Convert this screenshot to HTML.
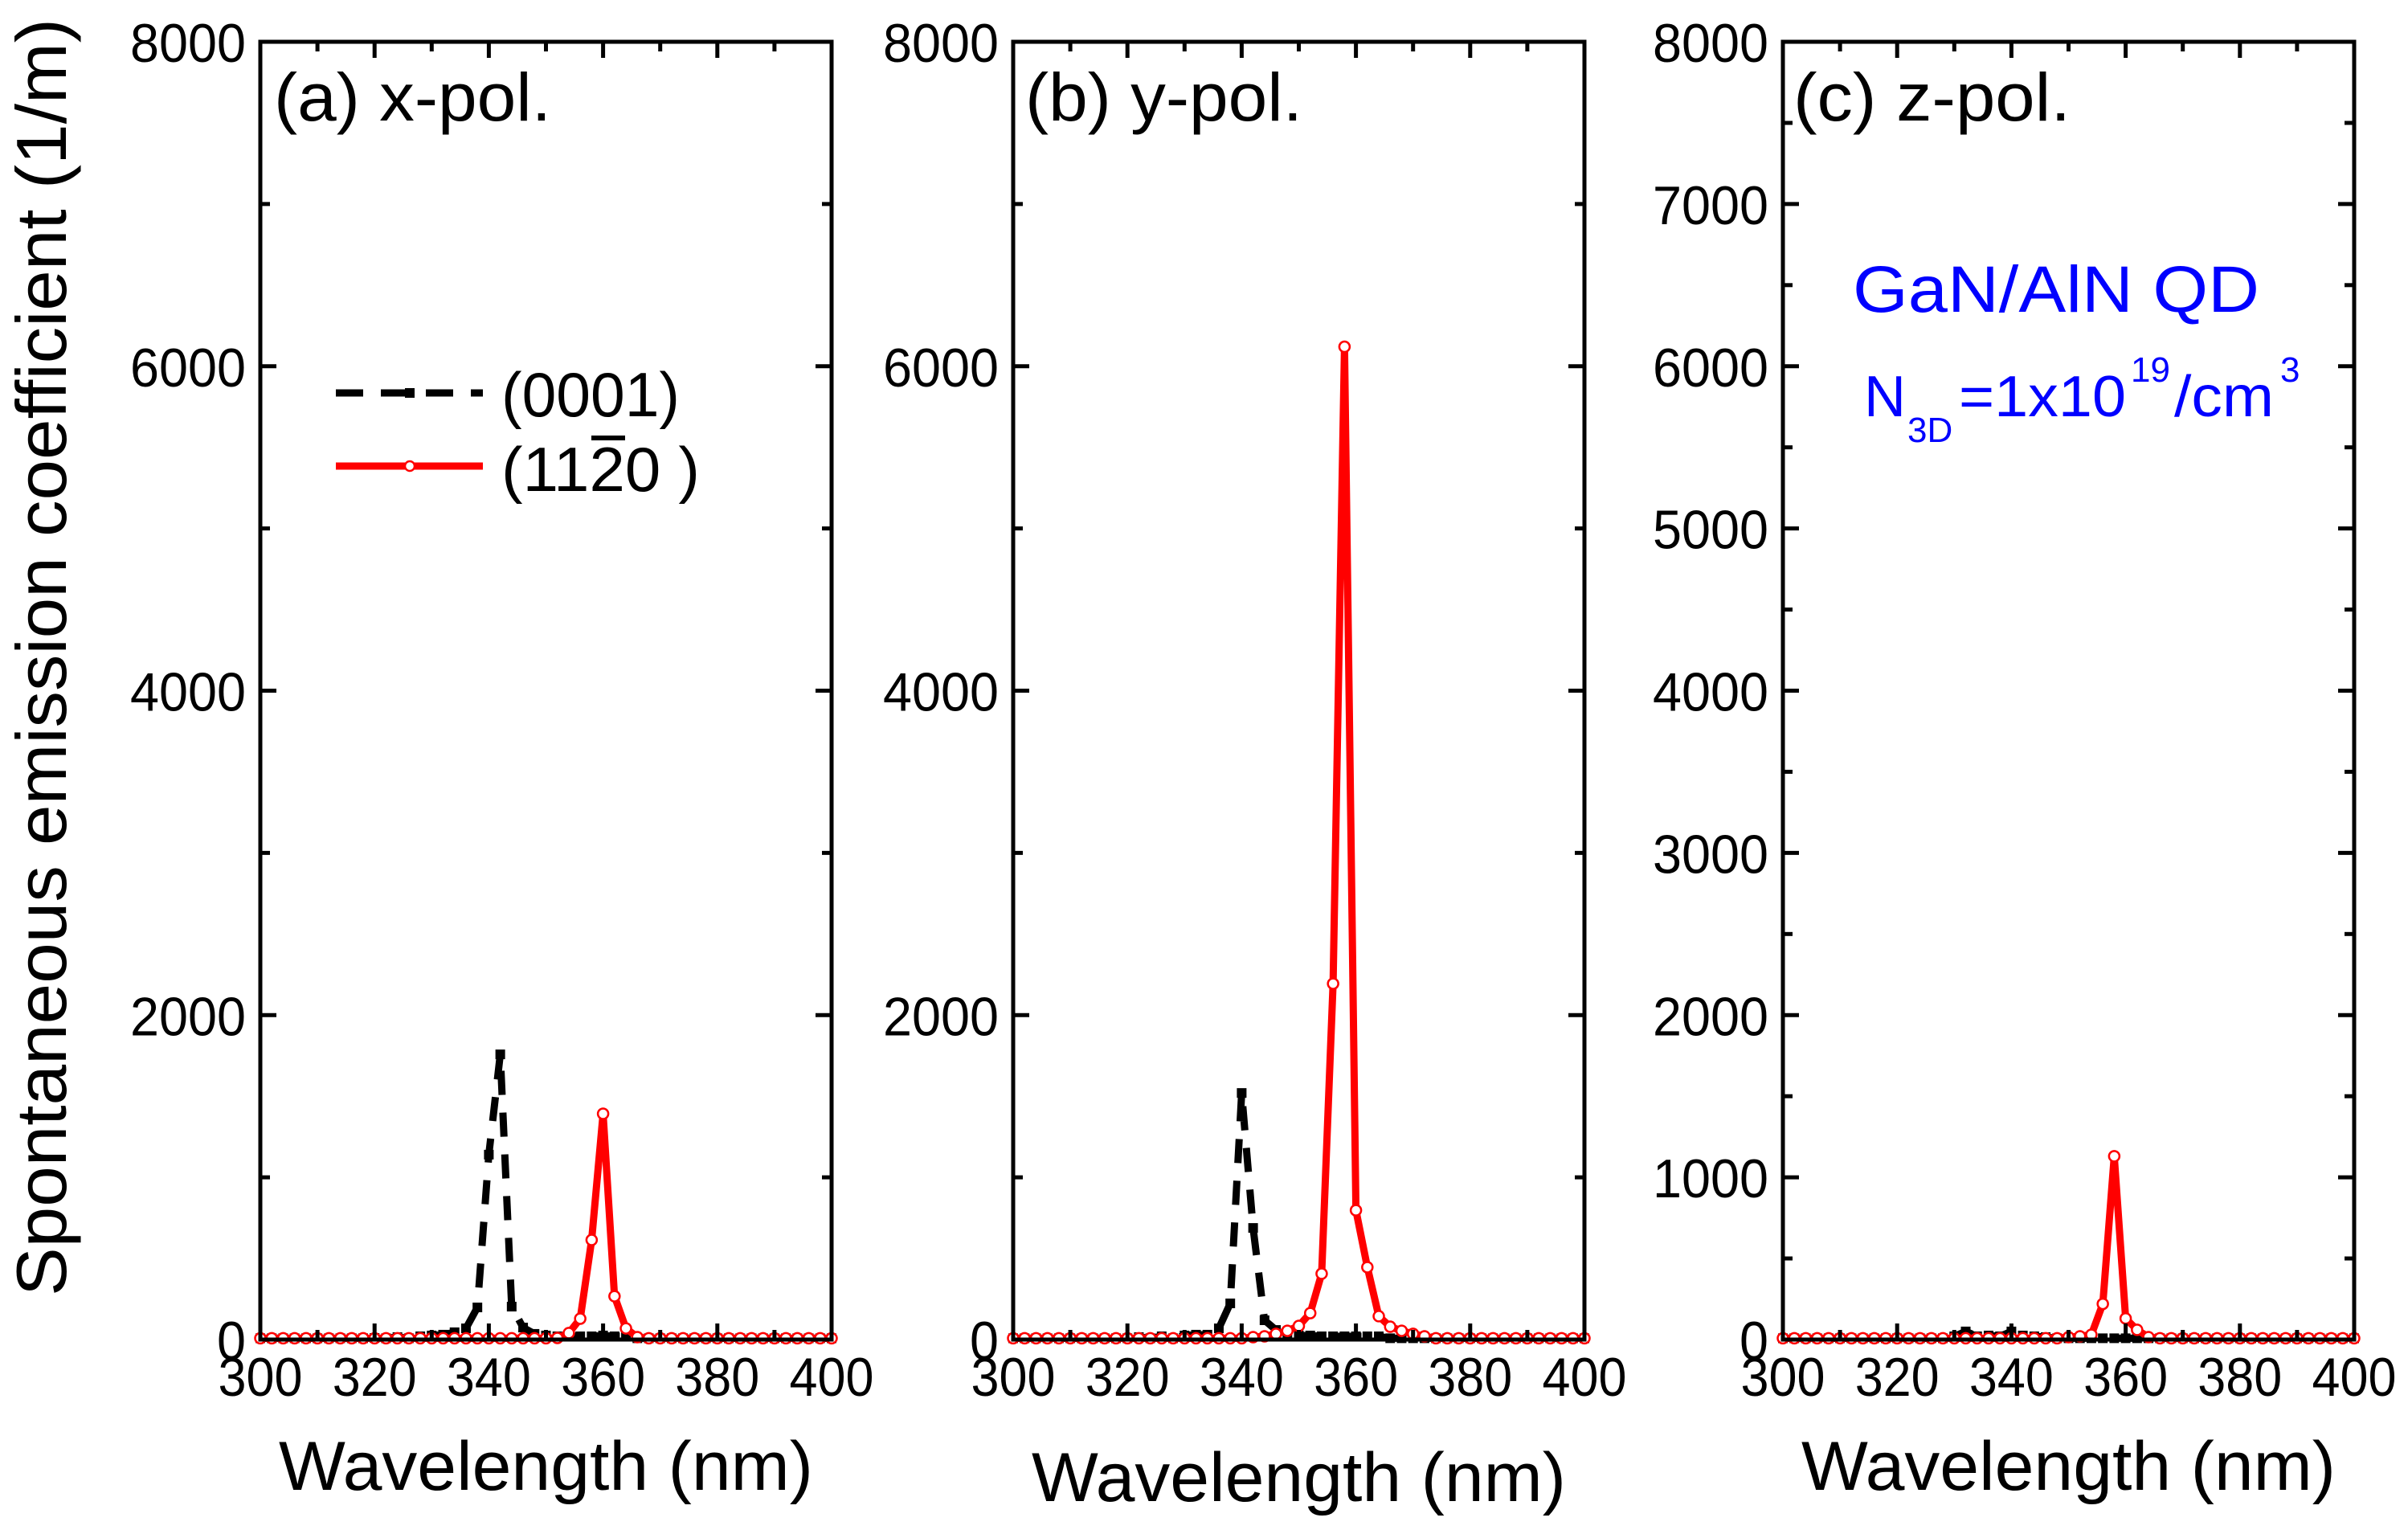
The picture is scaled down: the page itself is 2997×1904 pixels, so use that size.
<!DOCTYPE html>
<html><head><meta charset="utf-8"><style>
html,body{margin:0;padding:0;background:#fff;}
svg{display:block;font-family:"Liberation Sans",sans-serif;}
</style></head><body>
<svg id="chart" width="2997" height="1904" viewBox="0 0 2997 1904" xmlns="http://www.w3.org/2000/svg">
<rect width="2997" height="1904" fill="#fff"/>
<text x="0" y="0" font-size="88" textLength="1590" lengthAdjust="spacingAndGlyphs" text-anchor="middle" transform="translate(82,818) rotate(-90)">Spontaneous emission coefficient (1/m)</text>
<g id="panels"></g>
<text x="2306" y="388" font-size="82" fill="#0000ff" textLength="506" lengthAdjust="spacingAndGlyphs">GaN/AlN QD</text>
<g fill="#0000ff">
<text x="2320" y="518" font-size="72">N</text>
<text x="2374" y="550" font-size="44">3D</text>
<text x="2438" y="518" font-size="72" textLength="208" lengthAdjust="spacingAndGlyphs">=1x10</text>
<text x="2652" y="475" font-size="44">19</text>
<text x="2706" y="518" font-size="72" textLength="124" lengthAdjust="spacingAndGlyphs">/cm</text>
<text x="2838" y="475" font-size="44">3</text>
</g>
<g>
<line x1="418" y1="489" x2="601" y2="489" stroke="#000" stroke-width="9" stroke-dasharray="34,22"/>
<rect x="504" y="483" width="12" height="12" fill="#000"/>
<text x="624" y="518" font-size="78" textLength="222" lengthAdjust="spacingAndGlyphs">(0001)</text>
<line x1="418" y1="580" x2="601" y2="580" stroke="#ff0000" stroke-width="9"/>
<circle cx="510" cy="580" r="6" fill="#fff" stroke="#ff0000" stroke-width="2.5"/>
<text x="624" y="611" font-size="78" textLength="247" lengthAdjust="spacingAndGlyphs">(1120 )</text>
<line x1="736" y1="545" x2="778" y2="545" stroke="#000" stroke-width="6"/>
</g>
</svg>
<script>
// wavelengths shared
const wl = [];
for (let w = 300; w <= 400; w += 2) wl.push(w);
// Panel (a) x-pol
const aBlackNm = [320,324,328,330,332,334,336,338,340,342,344,346,348,350,352,354,356,358,360,362,364];
const aBlackVal = [10,15,20,25,30,45,69,198,1140,1758,203,74,35,25,20,20,20,20,25,20,20];
const aRedNm = [352,354,356,358,360,362,364,366];
const aRedVal = [10,40,129,614,1392,267,69,15];
// Panel (b) y-pol
const bBlackNm = [322,326,330,332,334,336,338,340,342,344,346,348,350,352,354,356,358,360,362,364];
const bBlackVal = [15,20,25,30,30,69,223,1520,688,119,59,30,25,25,20,20,20,20,20,20];
const bRedNm = [342,344,346,348,350,352,354,356,358,360,362,364,366,368,370,372];
const bRedVal = [15,20,35,54,84,163,406,2194,6120,797,446,144,79,54,35,20];
// Panel (c) z-pol
const cBlackNm = [330,332,334,336,338,340,342,344,346];
const cBlackVal = [20,50,20,25,20,50,25,20,15];
const cRedNm = [350,352,354,356,358,360,362,364];
const cRedVal = [15,20,30,220,1130,130,60,15];
const xTicks = [300,320,340,360,380,400];
const yTicksAB = [0,2000,4000,6000,8000];
const yTicksC = [0,1000,2000,3000,4000,5000,6000,7000,8000];

const NS = "http://www.w3.org/2000/svg";
const root = document.getElementById('panels');
function mk(tag, attrs, parent) {
  const e = document.createElementNS(NS, tag);
  for (const k in attrs) e.setAttribute(k, attrs[k]);
  parent.appendChild(e);
  return e;
}
function fill(nm, val) {
  const m = {};
  nm.forEach((n, i) => m[n] = val[i]);
  return wl.map(w => (m[w] !== undefined ? m[w] : 8));
}
const panels = [
  {id:'a', x0:324, title:'(a) x-pol.', tx:341, yt:yTicksAB, minor:1000, xt:1854,
   b:fill(aBlackNm,aBlackVal), r:fill(aRedNm,aRedVal)},
  {id:'b', x0:1261, title:'(b) y-pol.', tx:1276, yt:yTicksAB, minor:1000, xt:1868,
   b:fill(bBlackNm,bBlackVal), r:fill(bRedNm,bRedVal)},
  {id:'c', x0:2219, title:'(c) z-pol.', tx:2232, yt:yTicksC, minor:500, xt:1854,
   b:fill(cBlackNm,cBlackVal), r:fill(cRedNm,cRedVal)}
];
const W = 711, yTop = 52, yBot = 1667;
panels.forEach(p => {
  const g = mk('g', {}, root);
  
  
  const xs = v => p.x0 + (v - 300) / 100 * W;
  const ys = v => yBot - v / 8000 * (yBot - yTop);
  const bpts = wl.map((w, i) => xs(w) + ',' + ys(p.b[i])).join(' ');
  const bl = mk('polyline', {points:bpts, fill:'none', stroke:'#000', 'stroke-width':9, 'stroke-dasharray':'30,22', 'stroke-linejoin':'round'}, g);
  
  
  wl.forEach((w, i) => {
    const s = mk('rect', {x:xs(w)-6, y:ys(p.b[i])-6, width:12, height:12, fill:'#000'}, g);
    
    
  });
  const rpts = wl.map((w, i) => xs(w) + ',' + ys(p.r[i])).join(' ');
  const rl = mk('polyline', {points:rpts, fill:'none', stroke:'#ff0000', 'stroke-width':9, 'stroke-linejoin':'round'}, g);
  
  
  wl.forEach((w, i) => {
    const c = mk('circle', {cx:xs(w), cy:ys(p.r[i]), r:6.5, fill:'#fff', stroke:'#ff0000', 'stroke-width':2.5}, g);
    
    
  });
  const fr = mk('rect', {x:p.x0, y:yTop, width:W, height:yBot-yTop, fill:'none', stroke:'#000', 'stroke-width':5}, g);
  
  
  for (let v = 300; v <= 400; v += 10) {
    const L = (v % 20 === 0) ? 20 : 12;
    mk('line', {x1:xs(v), y1:yBot, x2:xs(v), y2:yBot-L, stroke:'#000', 'stroke-width':5}, g);
    mk('line', {x1:xs(v), y1:yTop, x2:xs(v), y2:yTop+L, stroke:'#000', 'stroke-width':5}, g);
  }
  xTicks.forEach(v => {
    const t = mk('text', {x:xs(v), y:1737, 'font-size':68, 'text-anchor':'middle', textLength:105, lengthAdjust:'spacingAndGlyphs'}, g);
    t.textContent = v;
    
    
  });
  const major = p.yt[1] - p.yt[0];
  for (let v = 0; v <= 8000; v += p.minor) {
    const L = (v % major === 0) ? 20 : 12;
    mk('line', {x1:p.x0, y1:ys(v), x2:p.x0+L, y2:ys(v), stroke:'#000', 'stroke-width':5}, g);
    mk('line', {x1:p.x0+W, y1:ys(v), x2:p.x0+W-L, y2:ys(v), stroke:'#000', 'stroke-width':5}, g);
  }
  p.yt.forEach(v => {
    const s = String(v);
    const t = mk('text', {x:p.x0-18, y:ys(v)+25, 'font-size':68, 'text-anchor':'end', textLength:36*s.length, lengthAdjust:'spacingAndGlyphs'}, g);
    t.textContent = s;
    
    
  });
  const tt = mk('text', {x:p.tx, y:150, 'font-size':84, textLength:345, lengthAdjust:'spacingAndGlyphs'}, g);
  tt.textContent = p.title;
  
  
  const xt = mk('text', {x:p.x0+W/2, y:p.xt, 'font-size':86, 'text-anchor':'middle', textLength:665, lengthAdjust:'spacingAndGlyphs'}, g);
  xt.textContent = 'Wavelength (nm)';
  
  
});
</script>
</body></html>
